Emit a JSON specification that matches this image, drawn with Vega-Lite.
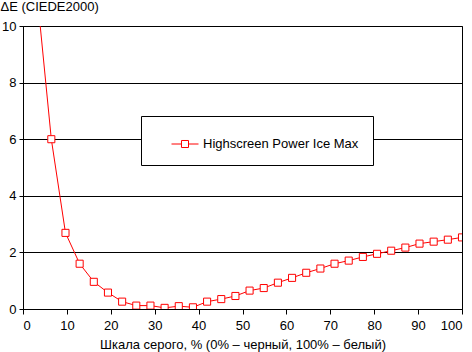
{
  "$schema": "https://vega.github.io/schema/vega-lite/v6.json",
  "autosize": {"type": "none"},
  "padding": {"left": 23, "top": 26, "right": 10, "bottom": 43},
  "width": 439,
  "height": 283,
  "background": "white",
  "config": {
    "font": "Liberation Sans",
    "view": {"stroke": "black", "strokeWidth": 1},
    "axis": {
      "labelFont": "Liberation Sans",
      "labelFontSize": 13,
      "labelColor": "black",
      "titleFont": "Liberation Sans",
      "titleFontSize": 13,
      "titleFontWeight": "normal",
      "titleColor": "black",
      "domainColor": "black",
      "tickColor": "black",
      "gridColor": "black",
      "gridOpacity": 1,
      "labelOverlap": false
    }
  },
  "data": {
    "values": [
      {"x": 3.226, "y": 11.1, "series": "Highscreen Power Ice Max"},
      {"x": 6.452, "y": 6.0, "series": "Highscreen Power Ice Max"},
      {"x": 9.677, "y": 2.69, "series": "Highscreen Power Ice Max"},
      {"x": 12.903, "y": 1.6, "series": "Highscreen Power Ice Max"},
      {"x": 16.129, "y": 0.96, "series": "Highscreen Power Ice Max"},
      {"x": 19.355, "y": 0.58, "series": "Highscreen Power Ice Max"},
      {"x": 22.581, "y": 0.26, "series": "Highscreen Power Ice Max"},
      {"x": 25.806, "y": 0.12, "series": "Highscreen Power Ice Max"},
      {"x": 29.032, "y": 0.12, "series": "Highscreen Power Ice Max"},
      {"x": 32.258, "y": 0.04, "series": "Highscreen Power Ice Max"},
      {"x": 35.484, "y": 0.1, "series": "Highscreen Power Ice Max"},
      {"x": 38.71, "y": 0.06, "series": "Highscreen Power Ice Max"},
      {"x": 41.935, "y": 0.26, "series": "Highscreen Power Ice Max"},
      {"x": 45.161, "y": 0.35, "series": "Highscreen Power Ice Max"},
      {"x": 48.387, "y": 0.46, "series": "Highscreen Power Ice Max"},
      {"x": 51.613, "y": 0.65, "series": "Highscreen Power Ice Max"},
      {"x": 54.839, "y": 0.74, "series": "Highscreen Power Ice Max"},
      {"x": 58.065, "y": 0.93, "series": "Highscreen Power Ice Max"},
      {"x": 61.29, "y": 1.1, "series": "Highscreen Power Ice Max"},
      {"x": 64.516, "y": 1.28, "series": "Highscreen Power Ice Max"},
      {"x": 67.742, "y": 1.43, "series": "Highscreen Power Ice Max"},
      {"x": 70.968, "y": 1.6, "series": "Highscreen Power Ice Max"},
      {"x": 74.194, "y": 1.71, "series": "Highscreen Power Ice Max"},
      {"x": 77.419, "y": 1.84, "series": "Highscreen Power Ice Max"},
      {"x": 80.645, "y": 1.95, "series": "Highscreen Power Ice Max"},
      {"x": 83.871, "y": 2.06, "series": "Highscreen Power Ice Max"},
      {"x": 87.097, "y": 2.17, "series": "Highscreen Power Ice Max"},
      {"x": 90.323, "y": 2.31, "series": "Highscreen Power Ice Max"},
      {"x": 93.548, "y": 2.38, "series": "Highscreen Power Ice Max"},
      {"x": 96.774, "y": 2.45, "series": "Highscreen Power Ice Max"},
      {"x": 100, "y": 2.53, "series": "Highscreen Power Ice Max"}
    ]
  },
  "encoding": {
    "x": {
      "field": "x",
      "type": "quantitative",
      "scale": {"domain": [0, 100], "nice": false},
      "axis": {
        "values": [0, 10, 20, 30, 40, 50, 60, 70, 80, 90, 100],
        "grid": false,
        "tickSize": 5,
        "labelPadding": 5,
        "title": "Шкала серого, % (0% – черный, 100% – белый)",
        "titleBaseline": "alphabetic",
        "titleY": 39,
        "titleX": 219.5,
        "titleAnchor": "middle"
      }
    },
    "y": {
      "field": "y",
      "type": "quantitative",
      "scale": {"domain": [0, 10], "nice": false},
      "axis": {
        "values": [0, 2, 4, 6, 8, 10],
        "grid": true,
        "tickSize": 4,
        "labelPadding": 3,
        "title": "ΔE (CIEDE2000)",
        "titleAngle": 0,
        "titleAlign": "left",
        "titleBaseline": "alphabetic",
        "titleX": -23,
        "titleY": -16
      }
    },
    "stroke": {
      "field": "series",
      "type": "nominal",
      "scale": {"range": ["#ff0000"]},
      "legend": {
        "title": null,
        "orient": "none",
        "legendX": 118,
        "legendY": 90,
        "fillColor": "white",
        "strokeColor": "black",
        "padding": 14,
        "symbolOffset": 16,
        "symbolType": "M-1,0H-0.26M0.26,0H1M-0.26,-0.26H0.26V0.26H-0.26Z",
        "symbolSize": 729,
        "symbolFillColor": "white",
        "symbolStrokeColor": "#ff0000",
        "symbolStrokeWidth": 1,
        "labelFont": "Liberation Sans",
        "labelFontSize": 13,
        "labelColor": "black",
        "labelOffset": 4,
        "labelLimit": 300,
        "labelExpr": "datum.label + '\u00a0\u00a0\u00a0'"
      }
    }
  },
  "layer": [
    {"mark": {"type": "line", "strokeWidth": 1, "clip": true}},
    {"mark": {"type": "point", "shape": "square", "size": 50, "filled": true, "fill": "white", "strokeWidth": 1, "opacity": 1, "clip": true}}
  ]
}
